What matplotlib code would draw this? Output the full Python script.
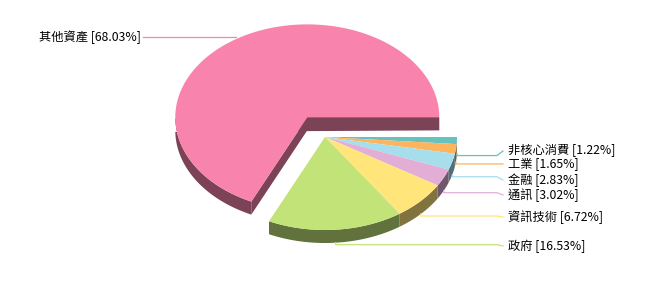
import numpy as np
import matplotlib
matplotlib.use('Agg')
import matplotlib.pyplot as plt
from matplotlib.colors import to_rgb

plt.rcParams['font.family'] = ['Noto Sans CJK TC', 'DejaVu Sans']

# slices, clockwise from 3 o'clock
labels = ['非核心消費', '工業', '金融', '通訊', '資訊技術', '政府', '其他資產']
values = [1.22, 1.65, 2.83, 3.02, 6.72, 16.53, 68.03]
colors = ['#66C2BE', '#FDB45C', '#A6DEEC', '#E2AED6', '#FFE57A', '#C2E377', '#F883AC']
exploded = [False, False, False, False, False, False, True]

# label text heights (pixels) for the right-hand labels
label_y = [151, 164, 180, 195, 217, 246]

cx, cy = 325, 137
rx, ry = 132, 93
depth = 13
explode_px = 33


def pt(c, t, r=1.0, dz=0):
    return (c[0] + rx * r * np.cos(t), c[1] - ry * r * np.sin(t) + dz)


def dark(col, f=0.5):
    return tuple(v * f for v in to_rgb(col))


fig = plt.figure(figsize=(6.5, 3), dpi=100)
ax = fig.add_axes([0, 0, 1, 1])
ax.set_xlim(0, 650)
ax.set_ylim(300, 0)
ax.axis('off')

fr = np.array(values) / sum(values)
ends = -np.cumsum(fr) * 2 * np.pi
starts = np.concatenate([[0], ends[:-1]])

order = [6, 0, 1, 2, 3, 4, 5]
for i in order:
    t1, t2 = starts[i], ends[i]
    mid = (t1 + t2) / 2
    c = (cx, cy)
    if exploded[i]:
        c = (cx + explode_px * np.cos(mid), cy - explode_px * np.sin(mid) * ry / rx)
    side = dark(colors[i])

    # radial cut faces of an exploded slice
    if exploded[i]:
        for t in (t1, t2):
            p = pt(c, t)
            ax.fill([c[0], p[0], p[0], c[0]], [c[1], p[1], p[1] + depth, c[1] + depth],
                    color=side, lw=0, zorder=1)

    # outer side for the front half
    a = np.linspace(t2, t1, 200)
    a = a[np.sin(a) <= 1e-9]
    if len(a):
        xs = c[0] + rx * np.cos(a)
        ys = c[1] - ry * np.sin(a)
        ax.fill(np.concatenate([xs, xs[::-1]]),
                np.concatenate([ys, ys[::-1] + depth]),
                color=side, lw=0, zorder=2)

    # top face
    a = np.linspace(t1, t2, 300)
    xs = np.concatenate([[c[0]], c[0] + rx * np.cos(a)])
    ys = np.concatenate([[c[1]], c[1] - ry * np.sin(a)])
    ax.fill(xs, ys, color=colors[i], lw=0, zorder=3)

    text = f'{labels[i]} [{values[i]:.2f}%]'
    if exploded[i]:
        p = pt(c, mid)
        ax.plot([p[0], 143], [p[1] - 2, p[1] - 2], color=colors[i], lw=0.9, zorder=4)
        ax.text(141, p[1] - 2, text, ha='right', va='center', fontsize=8.8, zorder=5)
    else:
        p = pt(c, mid, dz=depth)
        ly = p[1] + 2
        ty = label_y[i]
        ax.plot([p[0], p[0], 497, 503], [p[1], ly, ly, ty],
                color=colors[i], lw=0.9, zorder=4)
        ax.text(508, ty, text, ha='left', va='center', fontsize=8.8, zorder=5)

fig.savefig('out.png', dpi=100)
